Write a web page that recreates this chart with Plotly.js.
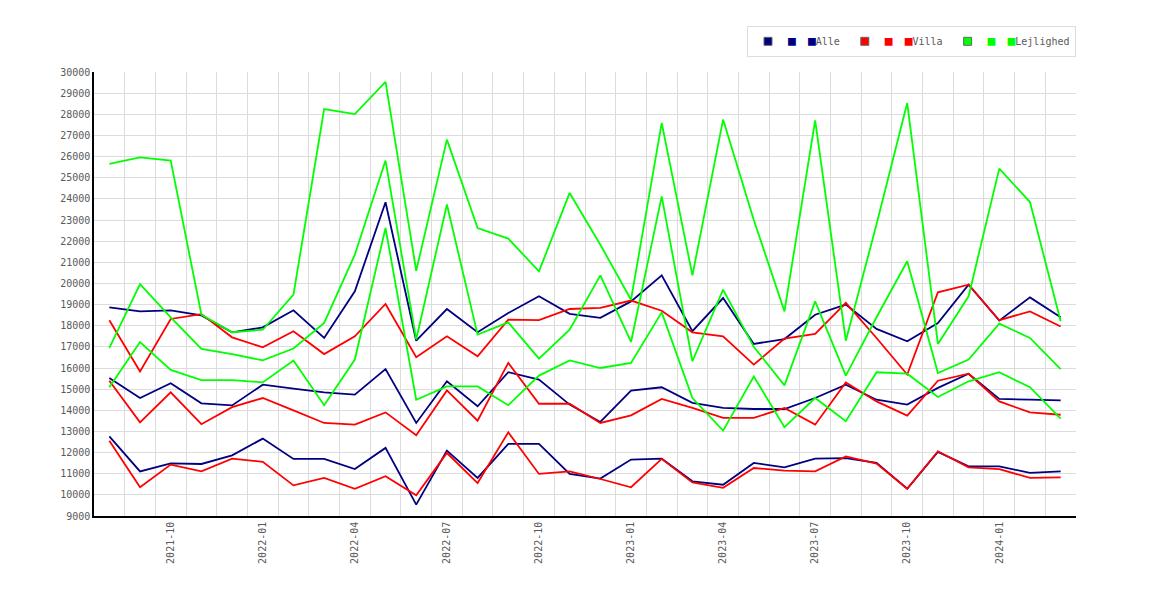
<!DOCTYPE html>
<html>
<head>
<meta charset="utf-8">
<script src="https://cdn.plot.ly/plotly-3.0.1.min.js"></script>
<style>
  body { margin: 0; background: #fff; }
  #graph { width: 1170px; height: 600px; }
</style>
</head>
<body>
<div id="graph"></div>
<script>
// months on the x axis (one point per month)
var months = [
  "2021-08","2021-09","2021-10","2021-11","2021-12",
  "2022-01","2022-02","2022-03","2022-04","2022-05","2022-06",
  "2022-07","2022-08","2022-09","2022-10","2022-11","2022-12",
  "2023-01","2023-02","2023-03","2023-04","2023-05","2023-06",
  "2023-07","2023-08","2023-09","2023-10","2023-11","2023-12",
  "2024-01","2024-02","2024-03"
]
var tickLabels = ["2021-10","2022-01","2022-04","2022-07","2022-10","2023-01",
                  "2023-04","2023-07","2023-10","2024-01"]

// Alle
var alleHigh = [18870,18680,18730,18490,17690,17920,18730,17420,19630,23840,17290,
                18790,17690,18600,19390,18560,18370,19150,20380,17740,19310,17140,
                17370,18520,19000,17850,17260,18130,19940,18240,19340,18400]
var alleMid  = [15530,14580,15280,14330,14230,15210,15020,14850,14740,15950,13400,
                15370,14190,15800,15450,14270,13450,14930,15090,14350,14110,14060,
                14060,14580,15210,14500,14270,15060,15730,14540,14500,14470]
var alleLow  = [12770,11110,11490,11460,11870,12660,11700,11700,11220,12220,9540,
                12090,10800,12410,12410,10990,10770,11670,11710,10640,10480,11510,
                11300,11710,11740,11510,10290,12030,11350,11350,11040,11110]

// Villa
var villaHigh = [18260,15840,18320,18550,17450,16980,17740,16660,17500,19030,16510,
                 17500,16550,18290,18260,18790,18840,19190,18710,17690,17500,16160,
                 17390,17610,19080,17420,15690,19580,19940,18260,18680,17960]
var villaMid  = [15400,13430,14850,13340,14150,14580,14000,13400,13320,13900,12820,
                 14940,13510,16240,14310,14310,13400,13760,14540,14110,13640,13640,
                 14110,13320,15320,14420,13750,15400,15730,14420,13900,13790]
var villaLow  = [12560,10360,11430,11110,11710,11560,10450,10800,10290,10880,9980,
                 11980,10560,12960,10990,11110,10750,10360,11700,10590,10330,11270,
                 11150,11110,11820,11480,10290,12060,11300,11220,10800,10830]

// Lejlighed
var lejHigh = [25650,25960,25810,18520,17690,17810,19470,28250,28010,29530,20600,
               26800,22620,22120,20570,24280,21830,19230,27590,20380,27750,23000,
               18680,27710,17290,22800,28530,17140,19390,25430,23850,18210]
var lejMid  = [16950,19970,18400,16900,16660,16360,16920,18130,21360,25810,17350,
               23730,17580,18160,16440,17810,20380,17230,24120,16320,19710,17000,
               15180,19150,15640,18400,21050,15760,16400,18100,17420,15950]
var lejLow  = [15090,17230,15910,15430,15430,15320,16350,14240,16400,22620,14500,
               15130,15130,14240,15640,16360,16000,16240,18630,14580,13040,15600,
               13200,14580,13480,15800,15730,14630,15370,15800,15090,13600]

var groups = [
  {name: "Alle",      color: "#000080", series: [alleHigh, alleMid, alleLow]},
  {name: "Villa",     color: "#ff0000", series: [villaHigh, villaMid, villaLow]},
  {name: "Lejlighed", color: "#00ff00", series: [lejHigh, lejMid, lejLow]}
]

var mono = "DejaVu Sans Mono, Liberation Mono, monospace"

// two extra legend squares drawn as glyphs after the legend symbol
function squares(color) {
  var sq = '<span style="font-size:13px;color:' + color + '">\u25A0</span>'
  return sq + '\u00a0\u00a0' + sq
}

var traces = []
groups.forEach(function(g) {
  g.series.forEach(function(vals) {
    traces.push({
      x: months,
      y: vals,
      type: 'scatter',
      mode: 'lines',
      line: {color: g.color, width: 1.8},
      showlegend: false,
      hoverinfo: 'x+y'
    })
  })
})

groups.forEach(function(g) {
  traces.push({
    x: [null],
    y: [null],
    type: 'scatter',
    mode: 'markers',
    marker: {symbol: 'square', size: 8, color: g.color, line: {color: '#666', width: 1}},
    name: squares(g.color) + g.name,
    showlegend: true,
    hoverinfo: 'skip'
  })
})

var tickText = months.map(function(m) {
  return tickLabels.indexOf(m) >= 0 ? m : ''
})

var layout = {
  width: 1170,
  height: 600,
  margin: {l: 94, r: 94, t: 72, b: 84},
  paper_bgcolor: '#fff',
  plot_bgcolor: '#fff',
  font: {family: mono, size: 10, color: '#5a5a5a'},
  xaxis: {
    type: 'category',
    range: [-0.5, months.length - 0.5],
    tickmode: 'array',
    tickvals: months,
    ticktext: tickText,
    tickson: 'boundaries',
    tickangle: -90,
    ticks: '',
    showgrid: true,
    gridcolor: '#dcdcdc',
    gridwidth: 1,
    showline: true,
    linecolor: '#000',
    linewidth: 1.5,
    zeroline: false,
    tickfont: {family: mono, size: 10, color: '#5a5a5a'}
  },
  yaxis: {
    range: [9000, 30000],
    tick0: 9000,
    dtick: 1000,
    tickformat: 'd',
    ticks: '',
    showgrid: true,
    gridcolor: '#dcdcdc',
    gridwidth: 1,
    showline: true,
    linecolor: '#000',
    linewidth: 1.5,
    zeroline: false,
    tickfont: {family: mono, size: 10, color: '#5a5a5a'}
  },
  legend: {
    orientation: 'h',
    x: 1,
    xanchor: 'right',
    y: 1.104,
    yanchor: 'top',
    bgcolor: '#fff',
    bordercolor: '#ddd',
    borderwidth: 1,
    traceorder: 'normal',
    font: {family: mono, size: 10, color: '#5a5a5a'}
  }
}

Plotly.newPlot('graph', traces, layout, {displayModeBar: false})
</script>
</body>
</html>
